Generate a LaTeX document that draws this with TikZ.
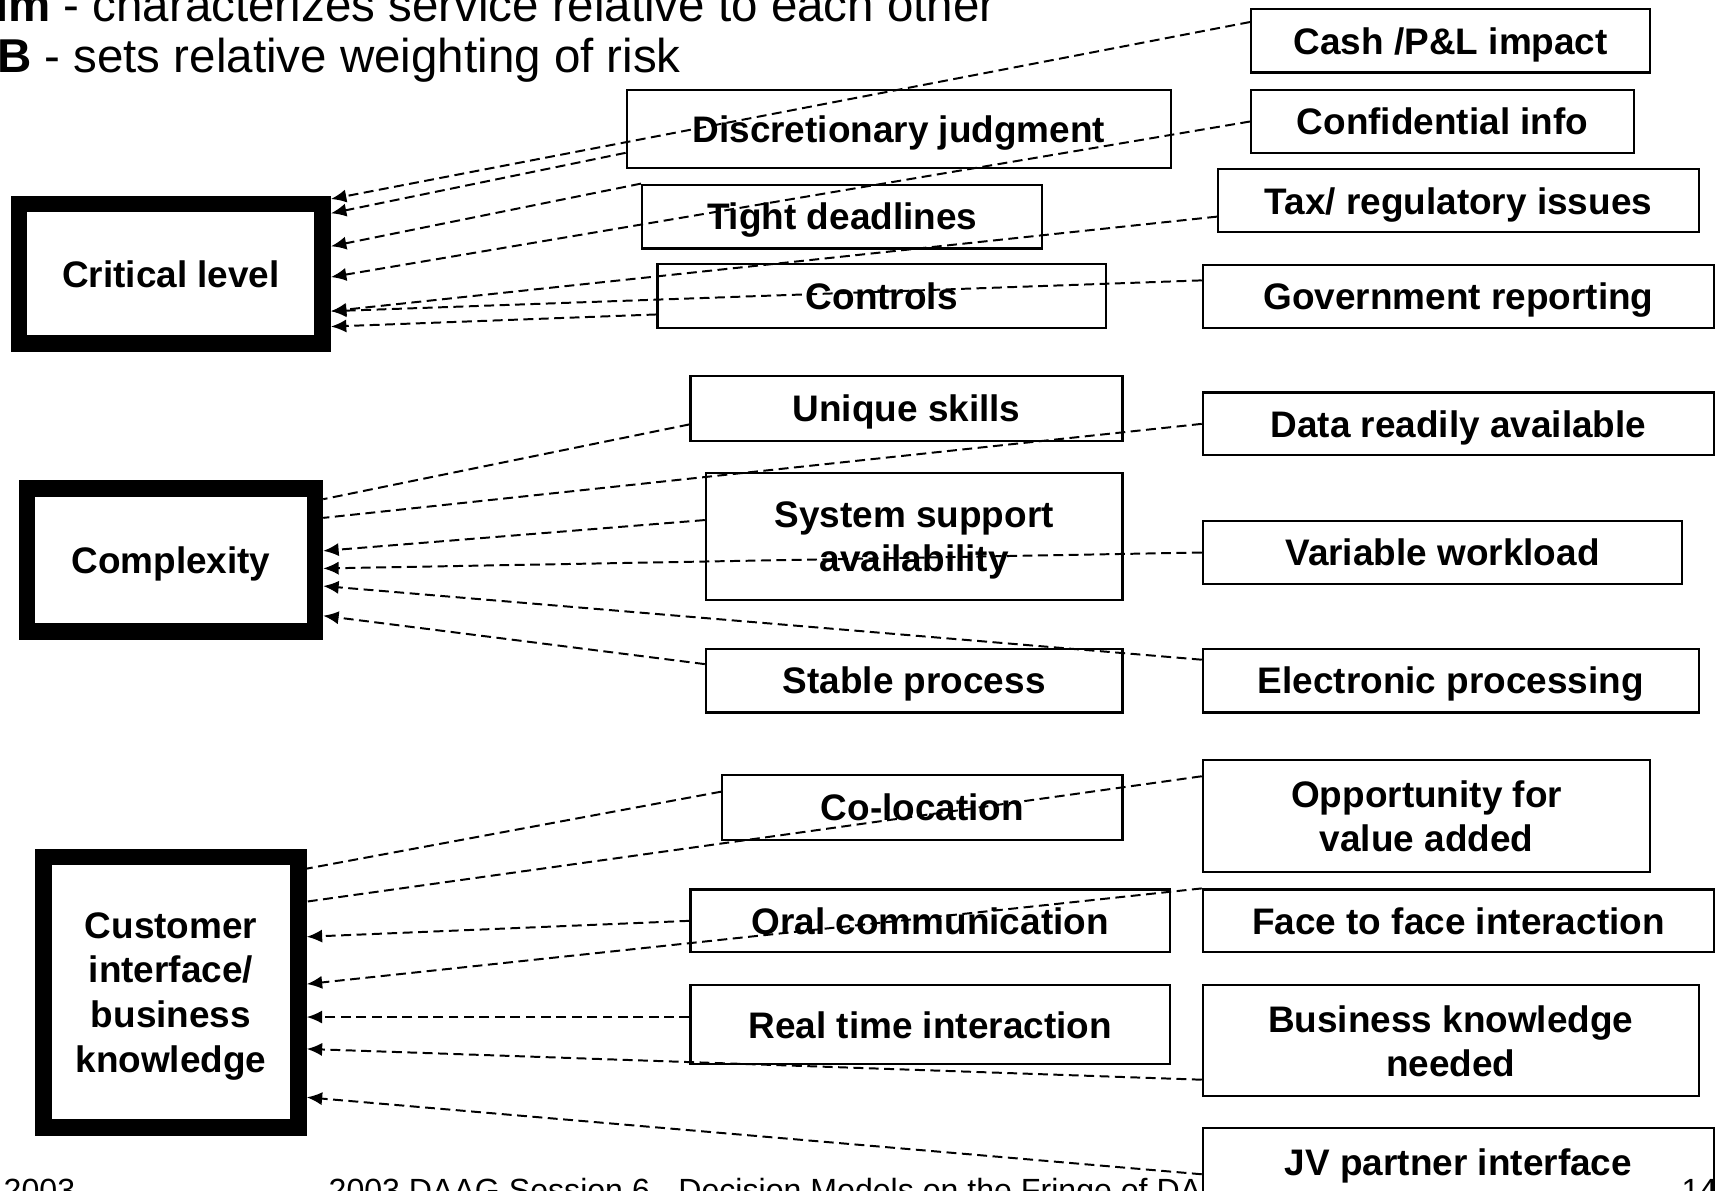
\documentclass[tikz,border=0pt]{standalone}
\usepackage{fontspec}
\setmainfont{Liberation Sans}
\usetikzlibrary{arrows.meta}

\tikzset{
  txt/.style={inner sep=0pt},
  riskbox/.style={draw, line width=7.5pt, fill=white, align=center, inner sep=0pt, text depth=0pt,
    font=\bfseries\fontsize{16.8}{20.3}\selectfont},
  attrbox/.style={draw, line width=1pt, fill=white, align=center, inner sep=0pt, text depth=0pt,
    font=\bfseries\fontsize{16.8}{20}\selectfont},
  link/.style={line width=0.9pt, dash pattern=on 4.5pt off 2.5pt},
  linkarr/.style={link, -{Latex[length=7pt,width=6pt]}},
}

\begin{document}
\begin{tikzpicture}[x=0.5pt, y=-0.5pt]
    \useasboundingbox (0,0) rectangle (1568,1083);
    % heading and footer
    \node[txt, anchor=base east, font=\fontsize{21.6}{25}\selectfont] (head1) at (906,20)
      {\textbf{im} - characterizes service relative to each other};
    \node[txt, anchor=base west, font=\fontsize{21.6}{25}\selectfont] (head2) at (-3,66)
      {\textbf{B} - sets relative weighting of risk};
    \node[txt, anchor=base west, font=\fontsize{14.6}{18}\selectfont] (foot1) at (3,1093) {2003};
    \node[txt, anchor=base east, font=\fontsize{14.6}{18}\selectfont] (foot2) at (1093,1093)
      {2003 DAAG Session 6 - Decision Models on the Fringe of DA};

    % risk dimensions
    \node[riskbox, minimum width=138pt, minimum height=63.5pt] (crit) at (155.5,249) {Critical level};
    \node[riskbox, minimum width=131pt, minimum height=65pt] (cplx) at (155.5,509.5) {Complexity};
    \node[riskbox, minimum width=116pt, minimum height=123pt] (cust) at (155.5,902.5)
      {Customer\\interface/\\business\\knowledge};

    % middle column
    \node[attrbox, minimum width=247.5pt, minimum height=35.5pt] (disc) at (817.5,117.5) {Discretionary judgment};
    \node[attrbox, minimum width=182pt, minimum height=29pt] (tight) at (766,197) {Tight deadlines};
    \node[attrbox, minimum width=204pt, minimum height=29pt] (ctrl) at (802,269) {Controls};
    \node[attrbox, minimum width=196.5pt, minimum height=29.5pt] (uniq) at (824.5,371.5) {Unique skills};
    \node[attrbox, minimum width=189.5pt, minimum height=58pt] (sys) at (831.5,488) {System support\\availability};
    \node[attrbox, minimum width=189.5pt, minimum height=29pt] (stab) at (831.5,619) {Stable process};
    \node[attrbox, minimum width=182pt, minimum height=29.5pt] (coloc) at (839,734.5) {Co-location};
    \node[attrbox, minimum width=218pt, minimum height=28.5pt] (oral) at (846,837.5) {Oral communication};
    \node[attrbox, minimum width=218pt, minimum height=36pt] (rtime) at (846,932) {Real time interaction};

    % right column
    \node[attrbox, minimum width=181.5pt, minimum height=29pt] (cash) at (1319.5,37) {Cash /P\&L impact};
    \node[attrbox, minimum width=174pt, minimum height=28.5pt] (conf) at (1312,110.5) {Confidential info};
    \node[attrbox, minimum width=218.5pt, minimum height=28.5pt] (tax) at (1326.5,182.5) {Tax/ regulatory issues};
    \node[attrbox, minimum width=232.5pt, minimum height=28.5pt] (gov) at (1326.5,269.5) {Government reporting};
    \node[attrbox, minimum width=232.5pt, minimum height=28.5pt] (data) at (1326.5,385.5) {Data readily available};
    \node[attrbox, minimum width=218pt, minimum height=28.5pt] (varw) at (1312,502.5) {Variable workload};
    \node[attrbox, minimum width=225.5pt, minimum height=29pt] (elec) at (1319.5,619) {Electronic processing};
    \node[attrbox, minimum width=203.5pt, minimum height=51pt] (opp) at (1297.5,742) {Opportunity for\\value added};
    \node[attrbox, minimum width=232.5pt, minimum height=28.5pt] (face) at (1326.5,837.5) {Face to face interaction};
    \node[attrbox, minimum width=225.5pt, minimum height=50.5pt] (bizk) at (1319.5,946.5) {Business knowledge\\needed};
    \node[attrbox, minimum width=232.5pt, minimum height=31pt] (jv) at (1326.5,1057) {JV partner interface};
    \node[txt, anchor=base west, font=\fontsize{14.6}{18}\selectfont] (pagenum) at (1529,1093) {14};

    % critical level
    \path[linkarr]
    ([yshift=8.5pt]cash.west) edge ([yshift=34pt]crit.east)
    ([yshift=-10.75pt]disc.west) edge ([yshift=27.5pt]crit.east)
    (tight.north west) edge ([yshift=12.5pt]crit.east)
    (conf.west) edge ([yshift=-1.5pt]crit.east)
    ([yshift=-7.25pt]tax.west) edge ([yshift=-17pt]crit.east)
    ([yshift=7.25pt]gov.west) edge ([yshift=-17pt]crit.east)
    ([yshift=-8.5pt]ctrl.west) edge ([yshift=-24pt]crit.east)
    ;
    % complexity
    \path[link]
    ([yshift=-7.25pt]uniq.west) edge ([yshift=27.75pt]cplx.east)
    (data.west) edge ([yshift=19.25pt]cplx.east)
    ;
    \path[linkarr]
    ([yshift=7.5pt]sys.west) edge ([yshift=4.25pt]cplx.east)
    (varw.west) edge ([yshift=-3.75pt]cplx.east)
    ([yshift=9.5pt]elec.west) edge ([yshift=-11.75pt]cplx.east)
    ([yshift=7.5pt]stab.west) edge ([yshift=-25.25pt]cplx.east)
    ;
    % customer interface
    \path[link]
    ([yshift=7.25pt]coloc.west) edge ([yshift=56.25pt]cust.east)
    ([yshift=18pt]opp.west) edge ([yshift=41.25pt]cust.east)
    ;
    \path[linkarr]
    (oral.west) edge ([yshift=25.25pt]cust.east)
    (face.north west) edge ([yshift=3.75pt]cust.east)
    ([yshift=3.5pt]rtime.west) edge ([yshift=-11.25pt]cust.east)
    ([yshift=-17.75pt]bizk.west) edge ([yshift=-25.75pt]cust.east)
    ([yshift=-5.5pt]jv.west) edge ([yshift=-47.75pt]cust.east)
    ;
\end{tikzpicture}
\end{document}
